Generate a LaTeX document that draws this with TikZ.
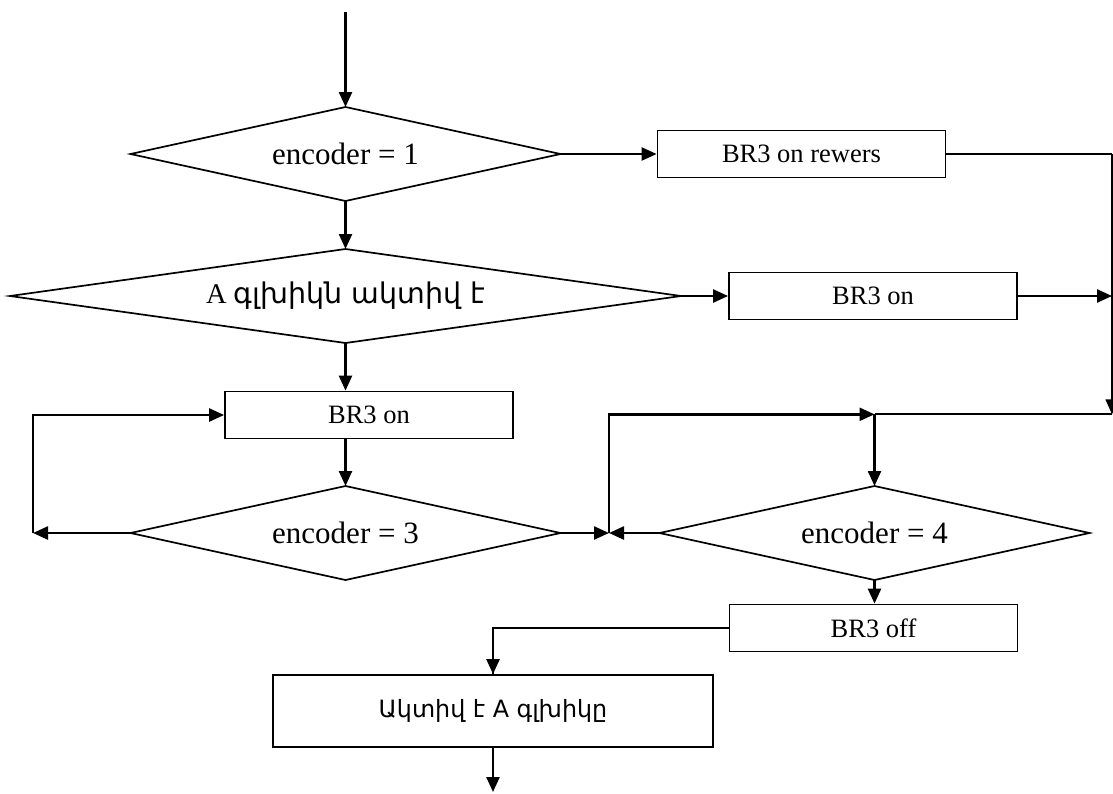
\documentclass[tikz,border=0pt]{standalone}
\usepackage{fontspec}
\setmainfont{Liberation Serif}
\newfontfamily\armfont{DejaVu Sans}
\usetikzlibrary{arrows.meta}
\begin{document}
\begin{tikzpicture}[x=1pt,y=-1pt,
  decision/.style={rectangle, inner sep=0pt, outer sep=0pt,
    minimum width=430pt, minimum height=94pt, font=\fontsize{31}{36}\selectfont},
  outline/.style={line width=1.7pt},
  action/.style={rectangle, draw, line width=1.8pt, inner sep=0pt,
    minimum width=288pt, minimum height=47pt, font=\fontsize{26.5}{30}\selectfont},
  tip/.style={-{Triangle[length=15pt,width=13pt]}},
  flow/.style={line width=2.4pt, tip},
  wire/.style={line width=1.5pt},
]
\useasboundingbox (0,0) rectangle (1113,793);

% blocks
\node[decision] (d1) at (345.5,154) {encoder = 1};
\node[action]   (r1) at (801.5,154) {BR3 on rewers};
\node[decision, minimum width=671pt, font=\fontsize{28.5}{32}\selectfont]
                (d2) at (345.5,296) {A {\armfont գլխիկն ակտիվ է}};
\node[action]   (r2) at (873,296) {BR3 on};
\node[action]   (b3) at (369,415) {BR3 on};
\node[decision] (d3) at (345.5,533) {encoder = 3};
\node[decision] (d4) at (874.5,533) {encoder = 4};
\node[action]   (b4) at (873.5,628) {BR3 off};
\node[action, minimum width=440pt, minimum height=72pt,
      font=\armfont\fontsize{23.8}{28}\selectfont]
                (b5) at (493,711) {\raisebox{3pt}{Ակտիվ է A գլխիկը}};

% decision outlines through the side midpoints
\foreach \n in {d1,d2,d3,d4}
  \draw[outline] (\n.north) -- (\n.east) -- (\n.south) -- (\n.west) -- cycle;

% junction points
\coordinate (start) at (345.5,12);
\coordinate (rc)    at (1112,154);
\coordinate (rj)    at (1112,414.3);
\coordinate (rm)    at (1112,296);
\coordinate (j4)    at (874.5,414.3);
\coordinate (mid)   at (609,533);
\coordinate (lft)   at (33,533);
\coordinate (stop)  at (493,792);

% connectors
\draw[flow] (start) -- (d1.north);
\draw[flow] (d1.east) -- (r1.west);
\draw[wire] (r1.east) -- (rc);
\draw[line width=1.4pt, tip] (rc) -- (rj);
\draw[flow] (d1.south) -- (d2.north);
\draw[flow] (d2.east) -- (r2.west);
\draw[flow] (r2.east) -- (rm);
\draw[flow] (d2.south) -- (d2.south |- b3.north);
\draw[flow] (d3.north |- b3.south) -- (d3.north);
\draw[flow] (d3.west) -- (lft);
\draw[flow] (lft) |- (b3.west);
\draw[flow] (d3.east) -- (mid);
\draw[flow] (d4.west) -- (mid);
\draw[flow] (mid) |- (j4);
\draw[line width=2.2pt] (rj) -- (j4);
\draw[flow] (j4) -- (d4.north);
\draw[flow] (d4.south) -- (d4.south |- b4.north);
\draw[wire] (b4.west) -| (b5.north);
\draw[flow] (b5.north |- b4.west) -- (b5.north);
\draw[flow] (b5.south) -- (stop);
\end{tikzpicture}
\end{document}
